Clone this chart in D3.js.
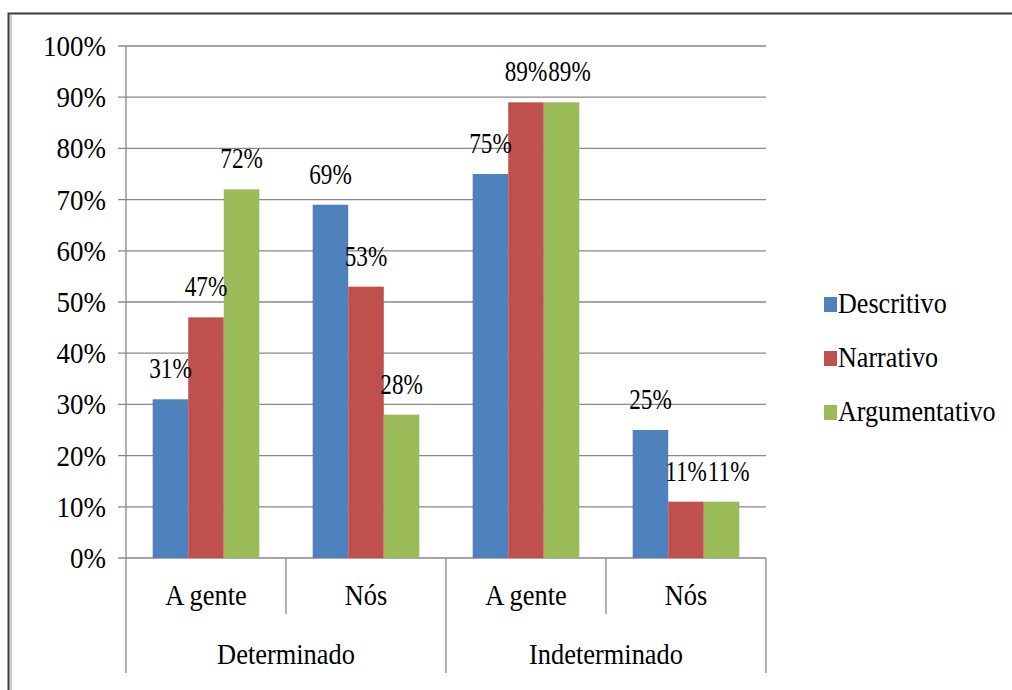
<!DOCTYPE html>
<html><head><meta charset="utf-8">
<script src="https://cdn.jsdelivr.net/npm/d3@7"></script>
<style>html,body{margin:0;padding:0;background:#fff;overflow:hidden}</style>
</head><body>
<script>
const subCategories = ["A gente", "Nós", "A gente", "Nós"];
const groups = ["Determinado", "Indeterminado"];
const seriesNames = ["Descritivo", "Narrativo", "Argumentativo"];
const descritivo = [31, 69, 75, 25];
const narrativo = [47, 53, 89, 11];
const argumentativo = [72, 28, 89, 11];
const yTicks = [0, 10, 20, 30, 40, 50, 60, 70, 80, 90, 100];
const colors = ["#4F81BD", "#C0504D", "#9BBB59"];

const W = 1012, H = 690;
const svg = d3.select("body").append("svg").attr("width", W).attr("height", H);

// frame
svg.append("rect").attr("x", 8.5).attr("y", 13.5).attr("width", 1100).attr("height", 800)
  .attr("fill", "none").attr("stroke", "#3a3a3a").attr("stroke-width", 2);
svg.append("line").attr("x1", 11).attr("x2", 11).attr("y1", 15).attr("y2", H)
  .attr("stroke", "#9a9a9a").attr("stroke-width", 1);

const L = 126, R = 766, T = 46, B = 558;
const x0 = d3.scaleBand().domain(d3.range(subCategories.length)).range([L, R]);
const barW = x0.bandwidth() / 4.5;
const y = d3.scaleLinear().domain([0, 100]).range([B, T]);

function txt(g, x, yy, s, size, anchor, sx) {
  return g.append("text").attr("transform", `translate(${x},${yy}) scale(${sx},1)`)
    .attr("text-anchor", anchor || "middle")
    .style("font-family", '"Liberation Serif"')
    .attr("font-size", size).attr("fill", "#000").text(s);
}

// gridlines
const grid = svg.append("g");
yTicks.forEach(t => {
  grid.append("line").attr("x1", 118).attr("x2", R).attr("y1", y(t)).attr("y2", y(t))
    .attr("stroke", "#888").attr("stroke-width", 1.3);
  txt(grid, 106, y(t) + 10, t + "%", 30, "end", 0.9);
});
svg.append("line").attr("x1", L).attr("x2", L).attr("y1", T).attr("y2", B)
  .attr("stroke", "#888").attr("stroke-width", 1.3);

// bars
const series = [descritivo, narrativo, argumentativo];
const gBars = svg.append("g");
series.forEach((vals, si) => {
  vals.forEach((v, ci) => {
    const bx = x0(ci) + barW * 0.75 + si * barW;
    gBars.append("rect").attr("x", bx).attr("y", y(v)).attr("width", barW).attr("height", B - y(v))
      .attr("fill", colors[si]);
  });
});
// data labels with simple collision nudging
const LSX = 0.8;
subCategories.forEach((c, ci) => {
  const placed = [];
  series.forEach((vals, si) => {
    const v = vals[ci];
    const bx = x0(ci) + barW * 0.75 + si * barW;
    let cx = bx + barW / 2;
    const by = y(v) - 21;
    const t = txt(gBars, cx, by, v + "%", 29, "middle", LSX);
    const w = t.node().getComputedTextLength() * LSX;
    placed.forEach(p => {
      if (Math.abs(p.y - by) < 22 && cx - w / 2 < p.right + 1) cx = p.right + 1 + w / 2;
    });
    t.attr("transform", `translate(${cx},${by}) scale(${LSX},1)`);
    placed.push({ y: by, right: cx + w / 2 });
  });
});

// category axis
const ax = svg.append("g");
d3.range(subCategories.length + 1).forEach(i => {
  const xx = i < subCategories.length ? x0(i) : R;
  const long = i % 2 === 0;
  ax.append("line").attr("x1", xx).attr("x2", xx).attr("y1", B).attr("y2", long ? 673 : 614)
    .attr("stroke", "#888").attr("stroke-width", 1.3);
});
subCategories.forEach((c, i) => {
  txt(ax, x0(i) + x0.bandwidth() / 2, 605, c, 30, "middle", 0.88);
});
groups.forEach((g, i) => {
  const gx = (x0(i * 2) + (i * 2 + 2 < subCategories.length ? x0(i * 2 + 2) : R)) / 2;
  txt(ax, gx, 664, g, 30, "middle", 0.88);
});

// legend
const lg = svg.append("g");
seriesNames.forEach((n, i) => {
  const ly = 313 + i * 54;
  lg.append("rect").attr("x", 824).attr("y", ly - 16).attr("width", 13).attr("height", 15).attr("fill", colors[i]);
  txt(lg, 838, ly, n, 29, "start", 0.9);
});
</script>
</body></html>
